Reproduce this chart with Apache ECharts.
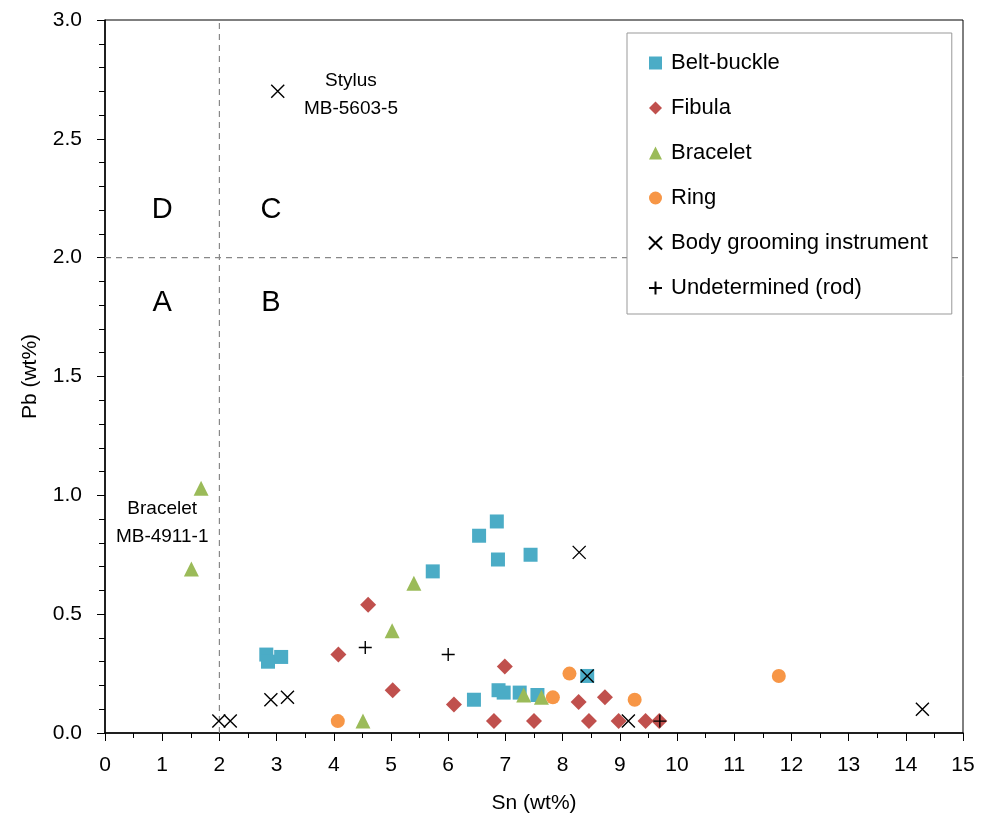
<!DOCTYPE html>
<html><head><meta charset="utf-8">
<script src="https://cdn.jsdelivr.net/npm/echarts@6/dist/echarts.min.js"></script>
<style>html,body{margin:0;padding:0;background:#fff}#c{width:987px;height:814px}</style>
</head><body><div id="c"></div>
<script>
const seriesNames = ['Belt-buckle','Fibula','Bracelet','Ring','Body grooming instrument','Undetermined (rod)'];
const beltBuckle = [[2.82,0.33],[2.85,0.30],[3.08,0.32],[5.73,0.68],[6.54,0.83],[6.85,0.89],[6.87,0.73],[7.44,0.75],[6.45,0.14],[6.88,0.18],[6.97,0.17],[7.25,0.17],[7.56,0.16],[8.43,0.24]];
const fibula = [[4.08,0.33],[4.6,0.54],[5.03,0.18],[6.1,0.12],[6.8,0.05],[6.99,0.28],[7.5,0.05],[8.28,0.13],[8.46,0.05],[8.74,0.15],[8.98,0.05],[9.45,0.05],[9.69,0.05]];
const bracelet = [[1.68,1.03],[1.51,0.69],[4.51,0.05],[5.02,0.43],[5.4,0.63],[7.32,0.16],[7.63,0.15]];
const ring = [[4.07,0.05],[7.83,0.15],[8.12,0.25],[9.26,0.14],[11.78,0.24]];
const grooming = [[3.02,2.70],[1.99,0.05],[2.19,0.05],[2.9,0.14],[3.19,0.15],[8.29,0.76],[8.43,0.24],[9.15,0.05],[14.29,0.10]];
const rod = [[4.55,0.36],[6.0,0.33],[9.7,0.05]];
const vLine = [[2,0],[2,3]];
const hLine = [[0,2],[15,2]];
const quadrantLabels = [[1.0,2.2,'D'],[2.9,2.2,'C'],[1.0,1.81,'A'],[2.9,1.81,'B']];
const notes = [[4.3,2.684,'Stylus\nMB-5603-5'],[1.0,0.885,'Bracelet\nMB-4911-1']];

const FONT = 'Liberation Sans';
const X_PATH = 'path://M0,0L10,10M10,0L0,10';
const PLUS_PATH = 'path://M5,0L5,10M0,5L10,5';

const chart = echarts.init(document.getElementById('c'), null, {renderer:'canvas'});
function sc(name, data, symbol, size, color, stroke){
  const s = {name, type:'scatter', data, symbol, symbolSize:size, z:5,
    emphasis:{disabled:true}};
  if(stroke){ s.itemStyle = {color:'rgba(0,0,0,0)', borderColor:'#000', borderWidth:1.4, opacity:1}; }
  else { s.itemStyle = {color, opacity:1}; }
  return s;
}
chart.setOption({
  animation:false,
  textStyle:{fontFamily:FONT},
  grid:{left:105, right:24, top:20, bottom:81, containLabel:false, outerBoundsMode:'none',
    show:true, borderColor:'#000', borderWidth:1, backgroundColor:'rgba(0,0,0,0)'},
  xAxis:{type:'value', min:0, max:15, interval:1,
    name:'Sn (wt%)', nameLocation:'middle', nameGap:60, nameTextStyle:{fontSize:21, color:'#000', fontFamily:FONT},
    axisLine:{lineStyle:{color:'#000', width:1.5}}, axisTick:{show:true, length:8, lineStyle:{color:'#000'}},
    minorTick:{show:true, splitNumber:2, length:5, lineStyle:{color:'#000'}},
    axisLabel:{fontSize:21, color:'#000', margin:22, fontFamily:FONT}, splitLine:{show:false}},
  yAxis:{type:'value', min:0, max:3, interval:0.5,
    name:'Pb (wt%)', nameLocation:'middle', nameGap:64, nameRotate:90, nameTextStyle:{fontSize:21, color:'#000', fontFamily:FONT},
    axisLine:{lineStyle:{color:'#000', width:1.5}}, axisTick:{show:true, length:8, lineStyle:{color:'#000'}},
    minorTick:{show:true, splitNumber:5, length:6, lineStyle:{color:'#000'}},
    axisLabel:{fontSize:21, color:'#000', margin:23, fontFamily:FONT, formatter:v=>v.toFixed(1)}, splitLine:{show:false}},
  legend:{orient:'vertical', left:627, top:33, data:seriesNames,
    backgroundColor:'#fff', borderColor:'#999', borderWidth:1,
    padding:[19,24,15,21], itemGap:23, itemWidth:13, itemHeight:13,
    textStyle:{fontSize:22, color:'#000', fontFamily:FONT, padding:[0,0,0,4]}, z:10},
  series:[
    {type:'line', data:vLine, symbol:'none', lineStyle:{color:'#888', type:[6,5], width:1.2}, z:1, silent:true},
    {type:'line', data:hLine, symbol:'none', lineStyle:{color:'#888', type:[6,5], width:1.2}, z:1, silent:true},
    sc(seriesNames[0], beltBuckle, 'rect', 14, '#4BACC6'),
    sc(seriesNames[1], fibula, 'diamond', 16, '#C0504D'),
    sc(seriesNames[2], bracelet, 'triangle', 15, '#9BBB59'),
    sc(seriesNames[3], ring, 'circle', 14, '#F79646'),
    sc(seriesNames[4], grooming, X_PATH, 13, '#000', true),
    sc(seriesNames[5], rod, PLUS_PATH, 13, '#000', true),
    {type:'scatter', data:quadrantLabels.map(d=>[d[0],d[1],d[2]]), symbolSize:0, silent:true, itemStyle:{opacity:1},
      label:{show:true, position:'inside', formatter:p=>p.data[2], fontSize:29, color:'#000', fontFamily:FONT}},
    {type:'scatter', data:notes.map(d=>[d[0],d[1],d[2]]), symbolSize:0, silent:true, itemStyle:{opacity:1},
      label:{show:true, position:'inside', formatter:p=>p.data[2], fontSize:19, lineHeight:28, color:'#000', fontFamily:FONT, align:'center'}}
  ]
});
</script></body></html>
